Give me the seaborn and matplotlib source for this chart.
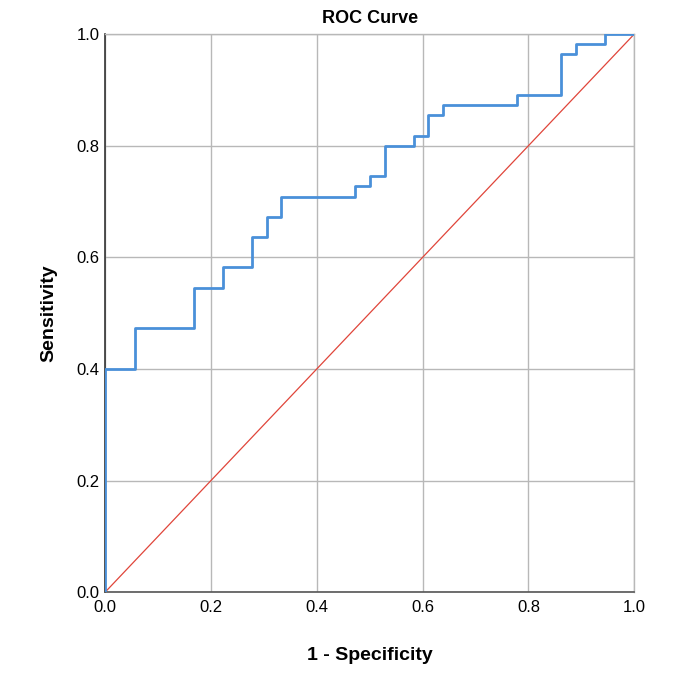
import matplotlib
matplotlib.use("Agg")
import matplotlib.pyplot as plt
import seaborn as sns
import pandas as pd

# ROC curve knots, drawn as a post-step line
fpr = [0.0, 0.0, 0.056, 0.167, 0.222, 0.278, 0.306, 0.333, 0.472, 0.5,
       0.528, 0.583, 0.611, 0.639, 0.778, 0.861, 0.889, 0.944, 1.0]
tpr = [0.0, 0.4, 0.473, 0.545, 0.582, 0.636, 0.673, 0.709, 0.727, 0.745,
       0.8, 0.818, 0.855, 0.873, 0.891, 0.964, 0.982, 1.0, 1.0]

ref_x = [0.0, 1.0]
ref_y = [0.0, 1.0]

ticks = [0.0, 0.2, 0.4, 0.6, 0.8, 1.0]

sns.set_style("whitegrid")
plt.rcParams["font.family"] = ["Liberation Sans", "DejaVu Sans"]
plt.rcParams["text.color"] = "black"
plt.rcParams["axes.labelcolor"] = "black"
plt.rcParams["xtick.color"] = "black"
plt.rcParams["ytick.color"] = "black"

fig = plt.figure(figsize=(6.74, 6.83), dpi=100)
ax = fig.add_axes([0.156, 0.133, 0.785, 0.817])

roc = pd.DataFrame({"fpr": fpr, "tpr": tpr})
sns.lineplot(
    data=roc,
    x="fpr",
    y="tpr",
    sort=False,
    estimator=None,
    drawstyle="steps-post",
    color="#4a90d9",
    linewidth=2.0,
    ax=ax,
    zorder=3,
)
sns.lineplot(x=ref_x, y=ref_y, color="#e0453a", linewidth=0.9, ax=ax, zorder=2)

ax.set_xlim(0, 1)
ax.set_ylim(0, 1)
ax.set_xticks(ticks)
ax.set_yticks(ticks)
ax.set_xticklabels([f"{t:.1f}" for t in ticks], fontsize=12)
ax.set_yticklabels([f"{t:.1f}" for t in ticks], fontsize=12)
ax.tick_params(axis="x", length=0, pad=6)
ax.tick_params(axis="y", length=0, pad=4)
ax.grid(True, color="#b8b8b8", linewidth=1.0)

for side in ["top", "right"]:
    ax.spines[side].set_color("#b8b8b8")
    ax.spines[side].set_linewidth(1.0)
ax.spines["left"].set_color("#333333")
ax.spines["bottom"].set_color("#555555")
ax.spines["left"].set_linewidth(1.2)
ax.spines["bottom"].set_linewidth(1.2)

ax.set_title("ROC Curve", fontsize=13, fontweight="bold", pad=8)
ax.set_xlabel("1 - Specificity", fontsize=14, fontweight="bold", labelpad=23)
ax.set_ylabel("Sensitivity", fontsize=14, fontweight="bold", labelpad=14)

fig.savefig("out.png", dpi=100)
